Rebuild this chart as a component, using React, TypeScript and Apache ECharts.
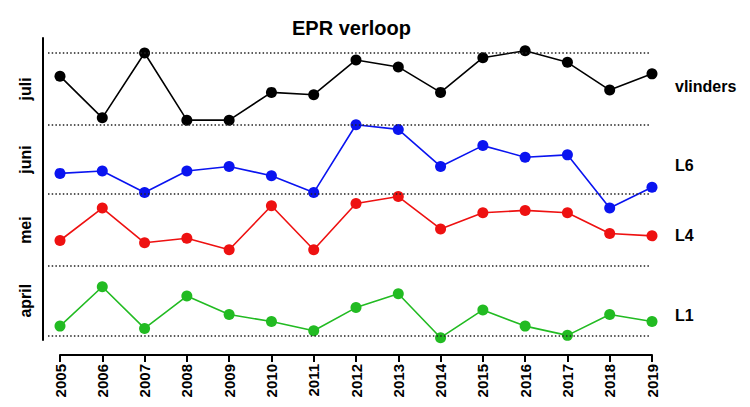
import React, { useEffect, useRef } from "react";
import * as echarts from "echarts";

const years = [2005, 2006, 2007, 2008, 2009, 2010, 2011, 2012, 2013, 2014, 2015, 2016, 2017, 2018, 2019];
// values: day of year
const vlinders = [203, 185, 213, 184, 184, 196, 195, 210, 207, 196, 211, 214, 209, 197, 204];
const l6 = [161, 162, 152.7, 162, 164, 160, 152.7, 182, 180, 164, 173, 168, 169, 146, 155];
const l4 = [132, 146, 131, 133, 128, 147, 128, 148, 151, 137, 144, 145, 144, 135, 134];
const l1 = [95, 112, 94, 108, 100, 97, 93, 103, 109, 90, 102, 95, 91, 100, 97];
const monthStarts = [91, 121, 152, 182, 213];
const monthNames = ["april", "mei", "juni", "juli"];
const monthMids = [106, 136.5, 167, 197.5];
const seriesNames = ["vlinders", "L6", "L4", "L1"];
const seriesLabelPos = [198.7, 164.6, 134.3, 99.7];
const colors = ["#000000", "#0a14f0", "#ee1111", "#22bb22"];

const FONT = "Liberation Sans, Arial, Helvetica, sans-serif";

export default function App() {
  const ref = useRef<HTMLDivElement>(null);
  useEffect(() => {
    if (!ref.current) return;
    const chart = echarts.init(ref.current, null, { renderer: "svg" });
    const dataSets = [vlinders, l6, l4, l1];
    const yMin = 89;
    const yMax = 219.5;
    chart.setOption({
      animation: false,
      backgroundColor: "#ffffff",
      textStyle: { fontFamily: FONT },
      title: {
        text: "EPR verloop",
        left: 287,
        top: 13,
        textStyle: { fontSize: 20, fontWeight: "bold", color: "#000", fontFamily: FONT },
      },
      grid: [
        { left: 60, right: 98, top: 38, bottom: 67 },
        { left: 48, right: 100, top: 38, bottom: 67 },
      ],
      xAxis: [
        {
          type: "value",
          gridIndex: 0,
          min: 2005,
          max: 2019,
          interval: 1,
          offset: 15,
          axisLine: { show: true, lineStyle: { color: "#000", width: 2 } },
          axisTick: { show: true, length: 7, lineStyle: { color: "#000", width: 2 } },
          axisLabel: {
            rotate: 90,
            margin: 9,
            fontSize: 15,
            fontWeight: "bold",
            color: "#000",
            fontFamily: FONT,
            formatter: (v: number) => String(v),
          },
          splitLine: { show: false },
        },
        { type: "value", gridIndex: 1, min: 0, max: 1, show: false },
      ],
      yAxis: [
        {
          type: "value",
          gridIndex: 0,
          position: "left",
          min: yMin,
          max: yMax,
          offset: 17,
          axisLine: { show: true, lineStyle: { color: "#000", width: 2 } },
          axisTick: { show: false },
          splitLine: { show: false },
          axisLabel: {
            customValues: monthMids,
            rotate: 90,
            margin: 10,
            fontSize: 16,
            fontWeight: "bold",
            color: "#000",
            fontFamily: FONT,
            formatter: (v: number) => {
              const i = monthMids.indexOf(v);
              return i >= 0 ? monthNames[i] : "";
            },
          },
        },
        {
          type: "value",
          gridIndex: 0,
          position: "right",
          min: yMin,
          max: yMax,
          axisLine: { show: false },
          axisTick: { show: false },
          splitLine: { show: false },
          axisLabel: {
            customValues: seriesLabelPos,
            margin: 23,
            fontSize: 16,
            fontWeight: "bold",
            color: "#000",
            fontFamily: FONT,
            formatter: (v: number) => {
              const i = seriesLabelPos.indexOf(v);
              return i >= 0 ? seriesNames[i] : "";
            },
          },
        },
        { type: "value", gridIndex: 1, min: yMin, max: yMax, show: false },
      ],
      series: [
        {
          type: "line",
          xAxisIndex: 1,
          yAxisIndex: 2,
          data: [[0.5, 100]],
          showSymbol: false,
          symbolSize: 0,
          lineStyle: { width: 0 },
          silent: true,
          z: 1,
          markLine: {
            silent: true,
            symbol: "none",
            label: { show: false },
            lineStyle: { type: [1.5, 2.2], color: "#222", width: 1.5 },
            data: monthStarts.map((v) => ({ yAxis: v })),
          },
        },
        ...dataSets.map((d, i) => ({
          name: seriesNames[i],
          type: "line",
          xAxisIndex: 0,
          yAxisIndex: 0,
          data: d.map((v, j) => [years[j], v]),
          symbol: "circle",
          symbolSize: 11,
          itemStyle: { color: colors[i] },
          lineStyle: { color: colors[i], width: 1.6 },
          z: 3,
        })),
      ],
    });
    return () => chart.dispose();
  }, []);
  return <div ref={ref} style={{ position: "absolute", left: 0, top: 0, width: 750, height: 407 }} />;
}
